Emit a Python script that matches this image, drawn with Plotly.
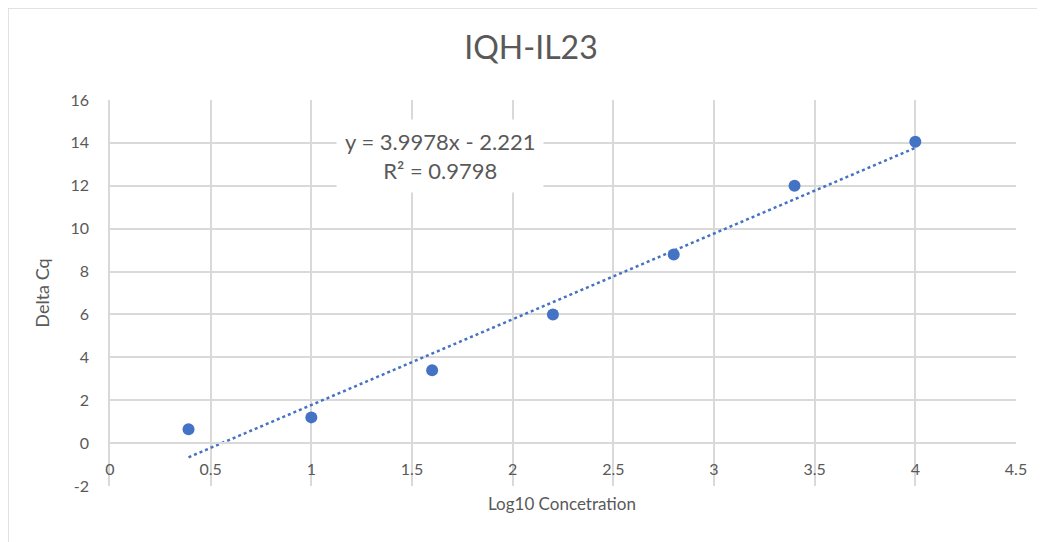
import plotly.graph_objects as go

log_conc = [0.39, 1.0, 1.6, 2.2, 2.8, 3.4, 4.0]
delta_cq = [0.65, 1.2, 3.4, 6.0, 8.8, 12.0, 14.05]
slope = 3.9978
intercept = -2.221
r2 = 0.9798

x_ticks = [0, 0.5, 1, 1.5, 2, 2.5, 3, 3.5, 4, 4.5]
x_tick_text = ["0", "0.5", "1", "1.5", "2", "2.5", "3", "3.5", "4", "4.5"]
y_ticks = [-2, 0, 2, 4, 6, 8, 10, 12, 14, 16]
y_tick_text = ["-2", "0", "2", "4", "6", "8", "10", "12", "14", "16"]

blue = "#4472C4"
gray_text = "#595959"
grid = "#D9D9D9"
font_family = "Lato, Open Sans, sans-serif"

OFF = 8  # page body margin offset
W, H = 1045, 542
L, R, T, B = 110 - OFF, 29 + OFF, 100 - OFF, 56 + OFF
pw, ph = W - L - R, H - T - B

trend_x = [min(log_conc), max(log_conc)]
trend_y = [slope * v + intercept for v in trend_x]

fig = go.Figure()
fig.add_trace(go.Scatter(x=trend_x, y=trend_y, mode="lines",
                         line=dict(color=blue, width=2.5, dash="dot"),
                         showlegend=False, hoverinfo="skip"))
fig.add_trace(go.Scatter(x=log_conc, y=delta_cq, mode="markers",
                         marker=dict(color=blue, size=12),
                         showlegend=False))

ymin, ymax = -2, 16
fig.update_layout(
    width=W, height=H,
    margin=dict(l=L, r=R, t=T, b=B),
    paper_bgcolor="white", plot_bgcolor="white",
    font=dict(family=font_family, color=gray_text, size=16),
    title=dict(text="IQH-IL23", x=(531 - OFF) / W, xref="container", xanchor="center",
               y=1 - (48 - OFF) / H, yref="container", yanchor="middle",
               font=dict(size=32, color=gray_text, family=font_family)),
    xaxis=dict(range=[0, 4.5], tickvals=x_ticks, ticktext=x_tick_text,
               showgrid=True, gridcolor=grid, gridwidth=1.5,
               zeroline=False, showline=True, linecolor=grid, linewidth=1.5,
               anchor="free", position=(0 - ymin) / (ymax - ymin),
               ticks="outside", ticklen=12, tickcolor="rgba(0,0,0,0)",
               tickfont=dict(size=16, color=gray_text)),
    xaxis2=dict(range=[0, 4.5], overlaying="x", showgrid=False, showline=True,
                linecolor=grid, linewidth=1.5, showticklabels=False,
                anchor="y", side="bottom", zeroline=False),
    yaxis=dict(range=[ymin, ymax], tickvals=y_ticks, ticktext=y_tick_text,
               showgrid=True, gridcolor=grid, gridwidth=1.5,
               zeroline=False, showline=True, linecolor=grid, linewidth=1.5,
               ticks="outside", ticklen=16, tickcolor="rgba(0,0,0,0)",
               tickfont=dict(size=16, color=gray_text),
               title=dict(text="Delta Cq", standoff=16,
                          font=dict(size=18, color=gray_text))),
    annotations=[
        dict(text="Log10 Concetration", xref="paper", yref="paper",
             x=(562 - 110) / pw, y=-(503 - 100 - ph) / ph, xanchor="center",
             yanchor="middle", showarrow=False,
             font=dict(size=17, color=gray_text)),
        dict(text=f"y = {slope}x - {abs(intercept)}<br>R² = {r2}",
             xref="x", yref="y", x=1.64, y=13.4, xanchor="center",
             yanchor="middle", showarrow=False, bgcolor="white",
             borderpad=8, font=dict(size=22, color=gray_text)),
    ],
    shapes=[dict(type="rect", xref="paper", yref="paper",
                 x0=-L / pw, x1=(W - L - 1) / pw,
                 y0=(T + ph - (H + 10)) / ph, y1=(T + ph) / ph,
                 line=dict(color="#D9D9D9", width=1.5), layer="below")],
)
fig.write_html("out.html")
